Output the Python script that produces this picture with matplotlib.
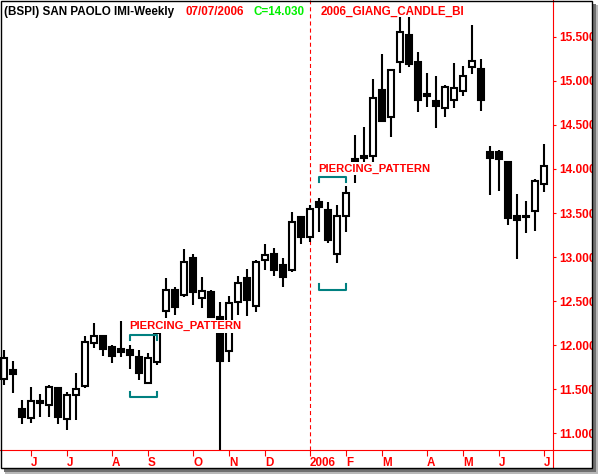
import numpy as np
import pandas as pd
import matplotlib
matplotlib.use('Agg')
import matplotlib.pyplot as plt
from matplotlib.patches import Rectangle
from matplotlib.lines import Line2D

plt.rcParams['font.family'] = ['Liberation Sans', 'DejaVu Sans']
plt.rcParams['font.weight'] = 'bold'
plt.rcParams['lines.scale_dashes'] = False

# weekly bars, one per friday
weeks = pd.date_range('2005-05-13', periods=61, freq='W-FRI')

opens = [11.62, 11.72, 11.28, 11.17, 11.37, 11.32, 11.51, 11.16, 11.43, 11.54,
         12.02, 12.11, 11.98, 11.96, 11.95, 11.87, 11.57, 11.81, 12.39, 12.63,
         12.57, 12.99, 12.54, 12.60, 12.32, 11.93, 12.49, 12.76, 12.44, 12.97,
         13.04, 12.91, 12.85, 13.45, 13.23, 13.63, 13.53, 13.03, 13.47, 14.11,
         14.15, 14.15, 14.90, 14.59, 15.21, 15.52, 15.21, 14.85, 14.77, 14.69,
         14.78, 14.88, 15.16, 15.14, 14.19, 14.19, 14.08, 13.47, 13.46, 13.52,
         13.83]
highs = [11.95, 11.82, 11.38, 11.52, 11.45, 11.55, 11.52, 11.47, 11.69, 12.10,
         12.25, 12.11, 12.00, 12.27, 12.00, 11.94, 11.91, 12.20, 12.76, 12.66,
         13.09, 13.04, 12.77, 12.63, 12.49, 12.56, 12.78, 12.86, 12.97, 13.15,
         13.10, 12.99, 13.51, 13.45, 13.59, 13.67, 13.63, 13.59, 13.81, 14.39,
         14.48, 15.02, 15.31, 15.14, 15.72, 15.72, 15.33, 15.09, 15.06, 14.95,
         15.20, 15.17, 15.63, 15.25, 14.26, 14.22, 14.09, 13.72, 13.64, 13.89,
         14.28]
lows = [11.55, 11.46, 11.10, 11.12, 11.18, 11.18, 11.10, 11.04, 11.15, 11.51,
        11.97, 11.88, 11.80, 11.87, 11.73, 11.60, 11.57, 11.78, 12.31, 12.34,
        12.55, 12.46, 12.42, 12.31, 10.50, 11.81, 12.34, 12.33, 12.38, 12.85,
        12.79, 12.66, 12.83, 13.15, 13.17, 13.29, 13.16, 12.93, 13.29, 13.84,
        14.05, 14.06, 14.54, 14.36, 15.09, 15.16, 14.65, 14.70, 14.46, 14.59,
        14.69, 14.83, 15.08, 14.66, 13.71, 13.75, 13.36, 12.98, 13.27, 13.30,
        13.74]
closes = [11.86, 11.67, 11.18, 11.37, 11.34, 11.52, 11.19, 11.43, 11.50, 12.04,
          12.10, 11.96, 11.88, 11.92, 11.89, 11.69, 11.85, 12.14, 12.63, 12.43,
          12.94, 12.60, 12.62, 12.32, 11.82, 12.48, 12.71, 12.51, 12.94, 13.02,
          12.85, 12.77, 13.40, 13.23, 13.55, 13.57, 13.19, 13.47, 13.73, 14.08,
          14.13, 14.81, 14.55, 15.12, 15.56, 15.19, 14.78, 14.83, 14.72, 14.93,
          14.92, 15.06, 15.23, 14.78, 14.13, 14.11, 13.44, 13.42, 13.47, 13.86,
          14.03]

# candle pattern marks
pat_names = ['PIERCING_PATTERN', 'PIERCING_PATTERN']
pat_start = [14, 35]
pat_end = [17, 38]
pat_top = [12.12, 13.91]
pat_bottom = [11.41, 12.63]

price_ticks = np.arange(11.0, 15.51, 0.5)

W, H = 600, 476
fig = plt.figure(figsize=(6, 4.76), dpi=100)


def fbox(x0, y0, x1, y1, **kw):
    # box in pixels, measured from the top left corner
    return Rectangle((x0 / W, 1 - y1 / H), (x1 - x0) / W, (y1 - y0) / H,
                     transform=fig.transFigure, **kw)


fig.add_artist(fbox(0, 0, 592, 468, facecolor='white', lw=0, zorder=-1))

ax = fig.add_axes([0, 1 - 450.3 / H, 553.3 / W, 450.3 / H])
ax.set_facecolor('none')
ax.set_xlim(-0.444, 61.03)
ax.set_ylim(10.807, 15.918)

for s in ['top', 'left']:
    ax.spines[s].set_visible(False)
for s in ['right', 'bottom']:
    ax.spines[s].set_color('red')
    ax.spines[s].set_linewidth(0.8)

# candles
for i in range(len(weeks)):
    o, h, l, c = opens[i], highs[i], lows[i], closes[i]
    ax.plot([i, i], [l, h], color='black', lw=1.5, solid_capstyle='butt', zorder=2)
    lo, hi = min(o, c), max(o, c)
    fc = 'white' if c >= o else 'black'
    ax.add_patch(Rectangle((i - 0.3, lo), 0.6, hi - lo, facecolor=fc,
                           edgecolor='black', lw=1.5, zorder=3))

# patterns
for name, s, e, top, bot in zip(pat_names, pat_start, pat_end, pat_top, pat_bottom):
    tk = 0.06
    ax.plot([s, s, e, e], [top - tk, top, top, top - tk], color='#008080', lw=1.5, zorder=4)
    ax.plot([s, s, e, e], [bot + tk, bot, bot, bot + tk], color='#008080', lw=1.5, zorder=4)
    ax.annotate(name, (s, top), xytext=(-0.5, 3.8), textcoords='offset points',
                color='red', fontsize=8.1, ha='left', va='baseline', zorder=5,
                bbox=dict(facecolor='white', edgecolor='none', pad=1.0))

# y axis on the right
ax.yaxis.tick_right()
ax.set_yticks(price_ticks)
ax.set_yticklabels([f'{v:.3f}' for v in price_ticks])
ax.tick_params(axis='y', colors='red', length=2.5, width=0.8, pad=1.5, labelsize=8.6)

# month ticks
tick_idx = [i for i in range(1, len(weeks)) if weeks[i].month != weeks[i - 1].month]
tick_lab = [str(weeks[i].year) if weeks[i].month == 1 else weeks[i].strftime('%b')[0]
            for i in tick_idx]
ax.set_xticks(tick_idx)
ax.set_xticklabels(tick_lab, ha='left')
ax.tick_params(axis='x', colors='red', length=4, width=0.8, pad=1, labelsize=8.4)

# new year line
for i in tick_idx:
    if weeks[i].month == 1:
        ax.axvline(i, color='red', lw=0.8, ls=(0, (2.9, 2.2)), zorder=1)

# axis lines carried out to the frame
fig.add_artist(Line2D([553.3 / W, 592 / W], [1 - 450.3 / H] * 2, color='red', lw=0.8,
                      transform=fig.transFigure, zorder=4))
fig.add_artist(Line2D([553.3 / W] * 2, [1 - 450.3 / H, 1 - 468 / H], color='red', lw=0.8,
                      transform=fig.transFigure, zorder=4))

# header
base = 1 - 15 / H
fig.text(4 / W, base, '(BSPI) SAN PAOLO IMI-Weekly', color='black', fontsize=8.4, va='baseline')
fig.text(185 / W, base, weeks[-1].strftime('%m/%d/%Y'), color='red', fontsize=8.4, va='baseline')
fig.text(254 / W, base, f'C={closes[-1]:.3f}', color='#00f000', fontsize=8.4, va='baseline')
fig.text(321 / W, base, '2006_GIANG_CANDLE_BI', color='red', fontsize=8.4, va='baseline')

# frame and drop shadow
fig.add_artist(fbox(592, 0, 600, 476, facecolor='white', lw=0, zorder=8))
fig.add_artist(fbox(0, 468, 600, 476, facecolor='white', lw=0, zorder=8))
fig.add_artist(fbox(592, 5, 598, 474, facecolor='#b8b8b8', lw=0, zorder=9))
fig.add_artist(fbox(5, 468, 598, 474, facecolor='#b8b8b8', lw=0, zorder=9))
fig.add_artist(fbox(592, 4, 596, 472, facecolor='#707070', lw=0, zorder=9))
fig.add_artist(fbox(4, 468, 596, 472, facecolor='#707070', lw=0, zorder=9))
fig.add_artist(fbox(0.5, 0.5, 591.5, 468, facecolor='none', edgecolor='black', lw=1.0, zorder=10))

fig.savefig('out.png', dpi=100)
